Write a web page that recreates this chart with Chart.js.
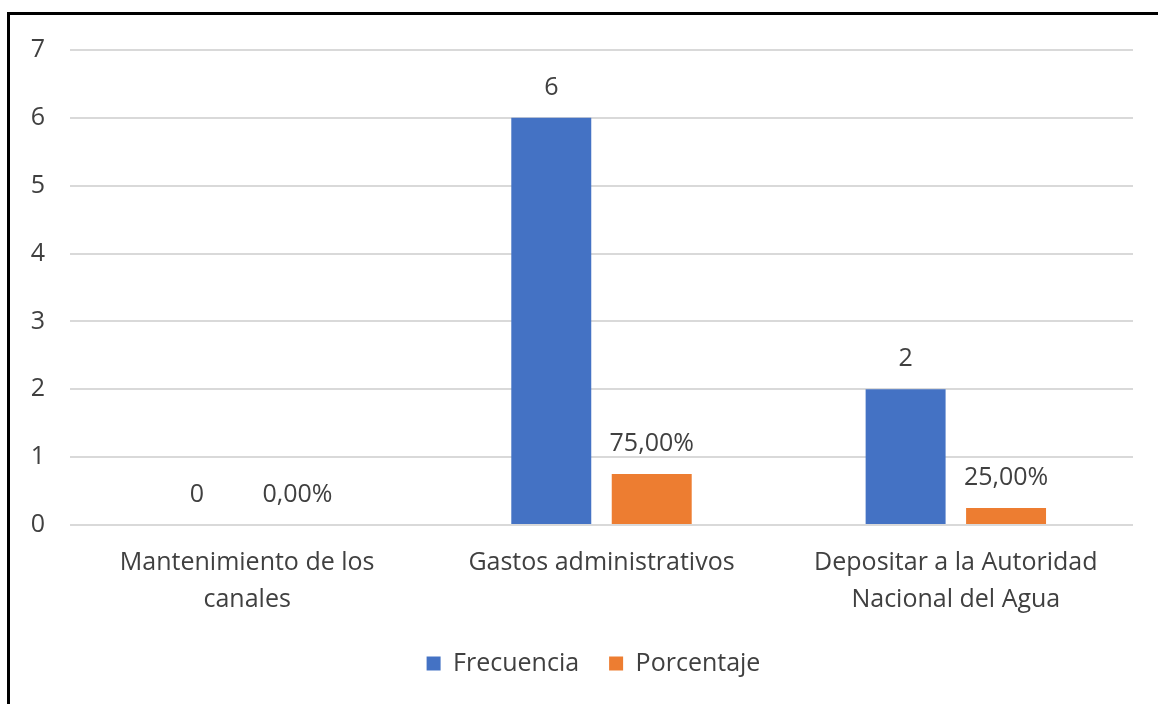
<!DOCTYPE html>
<html>
<head>
<meta charset="utf-8">
<script src="https://cdn.jsdelivr.net/npm/chart.js@4.4.0/dist/chart.umd.min.js"></script>
<style>
  html, body { margin: 0; padding: 0; background: #ffffff; }
  #wrap { position: relative; width: 1158px; height: 704px; overflow: hidden; }
  canvas { position: absolute; left: 0; top: 0; }
</style>
</head>
<body>
<div id="wrap"><canvas id="c" width="1158" height="704"></canvas></div>
<script>
const categories = [
  ['Mantenimiento de los', 'canales'],
  ['Gastos administrativos'],
  ['Depositar a la Autoridad', 'Nacional del Agua']
];
const frecuencia = [0, 6, 2];
const porcentaje = [0, 0.75, 0.25];
const yTicks = [0, 1, 2, 3, 4, 5, 6, 7];

const FONT = '"Open Sans", "DejaVu Sans", sans-serif';
const TEXT = '#404040';
const FS = 25;

const frameBorder = {
  id: 'frameBorder',
  afterDraw(chart) {
    const ctx = chart.ctx;
    ctx.save();
    ctx.strokeStyle = '#000';
    ctx.lineWidth = 3;
    ctx.beginPath();
    ctx.moveTo(8.5, 704);
    ctx.lineTo(8.5, 13.5);
    ctx.lineTo(1158, 13.5);
    ctx.stroke();
    ctx.restore();
  }
};

const legendShift = {
  id: 'legendShift',
  afterLayout(chart) {
    if (chart.legend) {
      chart.legend.left += 22;
      chart.legend.right += 22;
    }
  }
};

const dataLabels = {
  id: 'dataLabels',
  afterDatasetsDraw(chart) {
    const ctx = chart.ctx;
    ctx.save();
    ctx.font = FS + 'px ' + FONT;
    ctx.fillStyle = TEXT;
    ctx.textAlign = 'center';
    ctx.textBaseline = 'middle';
    chart.data.datasets.forEach((ds, di) => {
      const meta = chart.getDatasetMeta(di);
      meta.data.forEach((el, i) => {
        const v = ds.data[i];
        const txt = di === 0 ? String(v) : (v * 100).toFixed(2).replace('.', ',') + '%';
        ctx.fillText(txt, el.x, el.y - 30);
      });
    });
    ctx.restore();
  }
};

new Chart(document.getElementById('c'), {
  type: 'bar',
  data: {
    labels: categories,
    datasets: [
      { label: 'Frecuencia', data: frecuencia, backgroundColor: '#4472C4', borderWidth: 0,
        categoryPercentage: 0.567, barPercentage: 0.796 },
      { label: 'Porcentaje', data: porcentaje, backgroundColor: '#ED7D31', borderWidth: 0,
        categoryPercentage: 0.567, barPercentage: 0.796 }
    ]
  },
  options: {
    responsive: false,
    animation: false,
    devicePixelRatio: 1,
    layout: { padding: { left: 10, right: 25, top: 50, bottom: 18 } },
    plugins: {
      tooltip: { enabled: false },
      legend: {
        position: 'bottom',
        labels: {
          font: { family: FONT, size: FS },
          color: TEXT,
          boxWidth: 14,
          boxHeight: 14,
          padding: 30
        }
      }
    },
    scales: {
      x: {
        grid: { display: false, drawTicks: false },
        border: { display: false },
        ticks: {
          font: { family: FONT, size: FS, lineHeight: 1.5 },
          color: TEXT,
          padding: 19,
          maxRotation: 0,
          autoSkip: false
        },
        afterFit(scale) { scale.height = 96; }
      },
      y: {
        min: 0,
        max: 7,
        afterBuildTicks(scale) { scale.ticks = yTicks.map(v => ({ value: v })); },
        grid: { color: '#d9d9d9', lineWidth: 2, drawTicks: false },
        border: { display: false },
        ticks: {
          font: { family: FONT, size: FS },
          color: TEXT,
          padding: 25
        },
        afterFit(scale) { scale.width = 60; }
      }
    }
  },
  plugins: [frameBorder, legendShift, dataLabels]
});
</script>
</body>
</html>
